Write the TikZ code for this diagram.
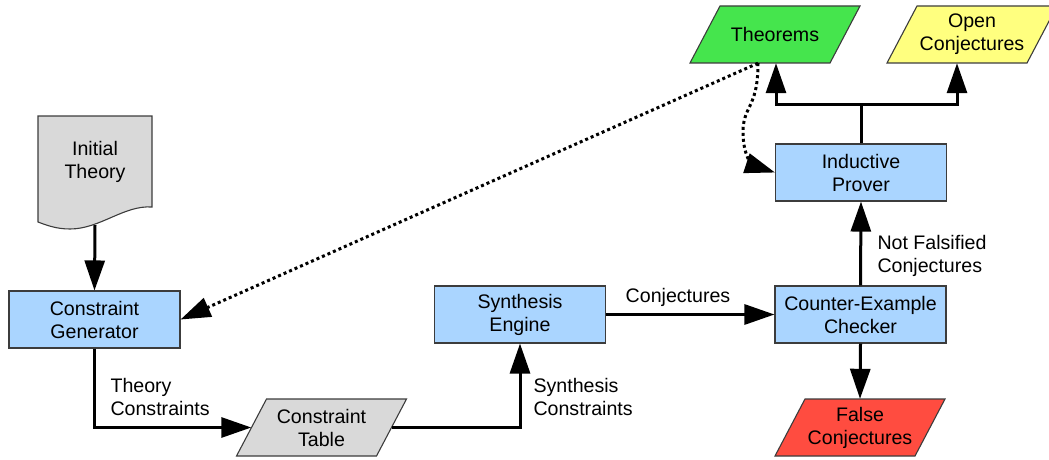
\documentclass[tikz,border=0pt]{standalone}
\usepackage{fontspec}
\setmainfont{Liberation Sans}
\usetikzlibrary{arrows.meta}
\definecolor{boxblue}{RGB}{170,213,255}
\definecolor{thgreen}{RGB}{69,229,77}
\definecolor{ocyellow}{RGB}{255,255,127}
\definecolor{fcred}{RGB}{255,76,64}
\definecolor{docgray}{RGB}{217,217,217}
\definecolor{bordergray}{RGB}{60,60,60}
\tikzset{
  every node/.style={font=\fontsize{19.6}{23}\selectfont, align=center},
  procbox/.style={draw=bordergray, line width=1.1pt, fill=boxblue, minimum width=171pt, minimum height=57pt, inner sep=0pt},
  parashape/.style={draw=bordergray, line width=1.1pt},
  paratext/.style={minimum width=140pt, minimum height=57pt, inner sep=0pt},
  arr/.style={line width=3pt, -{Triangle[length=30pt,width=20pt]}},
  dotarr/.style={line width=3pt, dash pattern=on 3pt off 3pt, -{Triangle[length=30pt,width=20pt]}},
  lbl/.style={anchor=west, align=left}
}
\newcommand\paranode[5]{%
  \draw[parashape, fill=#4] ({#2-85},{#3+28.5}) -- ({#2+55},{#3+28.5}) -- ({#2+85},{#3-28.5}) -- ({#2-55},{#3-28.5}) -- cycle;
  \node[paratext] (#1) at (#2,#3) {#5};}
\begin{document}
\begin{tikzpicture}[x=1pt,y=-1pt]
\useasboundingbox (0,0) rectangle (1049,460);
% Initial Theory (document shape)
\draw[bordergray, line width=1.1pt, fill=docgray] (38,116) -- (152,116) -- (152,207) .. controls (124,205) and (100,229) .. (70,229) .. controls (56,229) and (46,225) .. (38,222) -- cycle;
\node[minimum width=114pt, minimum height=92pt, inner sep=0pt] (it) at (95,162) {Initial\\Theory};
% process boxes
\node[procbox] (cg) at (94.5,319.5) {Constraint\\Generator};
\node[procbox] (se) at (520,314.5) {Synthesis\\Engine};
\node[procbox] (cec) at (860.5,314.5) {Counter-Example\\Checker};
\node[procbox] (ip) at (861,172.5) {Inductive\\Prover};
% parallelograms
\paranode{ct}{321.5}{427.5}{docgray}{Constraint\\Table}
\paranode{fc}{860}{427.5}{fcred}{False\\Conjectures}
\paranode{th}{775}{34.5}{thgreen}{Theorems}
\paranode{oc}{972}{34.5}{ocyellow}{Open\\Conjectures}
% connectors
\draw[arr] ([yshift=-17pt]it.south) -- (cg.north);
\draw[arr] (cg.south) |- (ct.west);
\node[lbl] (l1) at (107,397) {Theory\\Constraints};
\draw[arr] (ct.east) -| (se.south);
\node[lbl] (l2) at (530,397) {Synthesis\\Constraints};
\draw[arr] (se.east) -- (cec.west);
\node (l3) at (678,297) {Conjectures};
\draw[arr] (cec.north) -- (ip.south);
\node[lbl] (l4) at (874,255.5) {Not Falsified\\Conjectures};
\draw[arr] (cec.south) -- (fc.north);
\coordinate (j) at (861,104);
\draw[arr] (ip.north) -- (j) -| ([xshift=1pt]th.south);
\draw[arr] (j) -| ([xshift=-15pt]oc.south);
\draw[dotarr] ([xshift=-17pt]th.south) -- (cg.east);
\draw[dotarr] ([xshift=-17pt]th.south) .. controls (758,110) and (742,105) .. (743,135) .. controls (744,160) and (755,166) .. (ip.west);
\end{tikzpicture}
\end{document}
